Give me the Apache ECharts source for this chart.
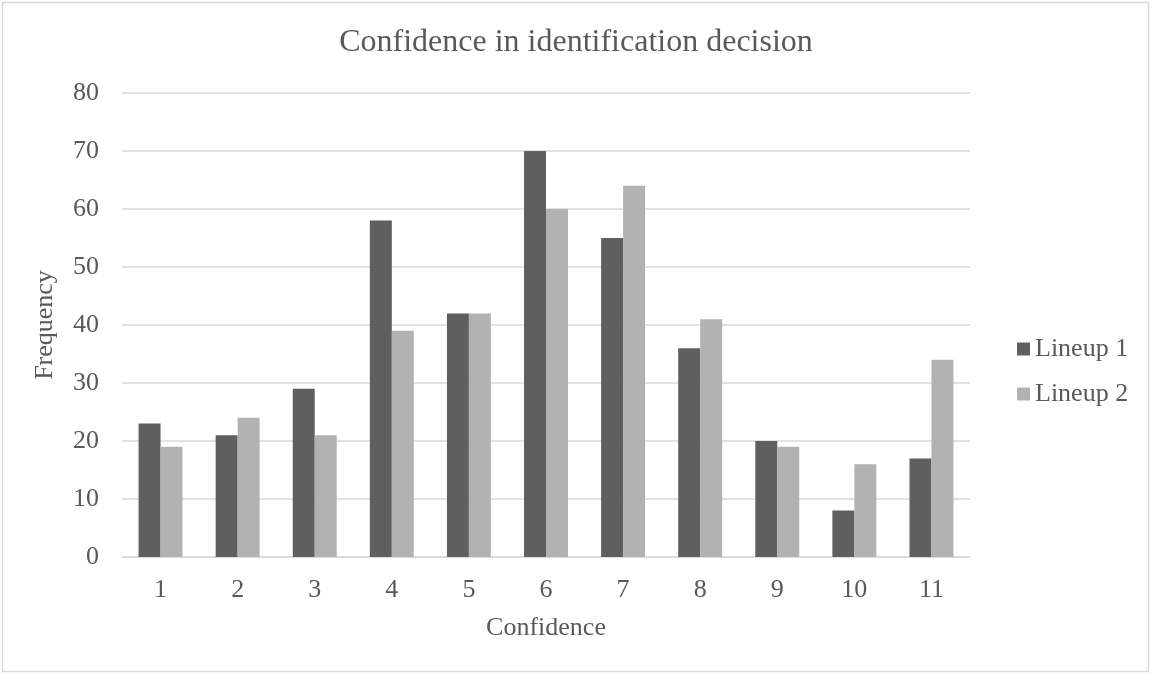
<!DOCTYPE html>
<html>
<head>
<meta charset="utf-8">
<script src="https://cdn.jsdelivr.net/npm/echarts@6/dist/echarts.min.js"></script>
<style>
html, body { margin: 0; padding: 0; background: #fff; }
#chart { width: 1152px; height: 675px; }
</style>
</head>
<body>
<div id="chart"></div>
<script>
// data
var categories = ['1', '2', '3', '4', '5', '6', '7', '8', '9', '10', '11'];
var lineup1 = [23, 21, 29, 58, 42, 70, 55, 36, 20, 8, 17];
var lineup2 = [19, 24, 21, 39, 42, 60, 64, 41, 19, 16, 34];

var font = '"Liberation Serif", "DejaVu Serif", serif';
var textColor = '#595959';

var myChart = echarts.init(document.getElementById('chart'));
myChart.setOption({
    backgroundColor: '#fff',
    animation: false,
    graphic: [{
        type: 'rect',
        shape: { x: 2.5, y: 2.5, width: 1146, height: 669 },
        style: { fill: 'none', stroke: '#d9d9d9', lineWidth: 1.5 }
    }],
    title: {
        text: 'Confidence in identification decision',
        left: 'center',
        top: 22,
        textStyle: { fontFamily: font, fontSize: 32, fontWeight: 'normal', color: textColor }
    },
    legend: {
        orient: 'vertical',
        left: 1012,
        top: 331,
        itemWidth: 13,
        itemHeight: 13,
        itemGap: 19,
        icon: 'rect',
        textStyle: { fontFamily: font, fontSize: 26, color: textColor },
        data: ['Lineup 1', 'Lineup 2']
    },
    grid: { left: 122, right: 182, top: 93, bottom: 118, containLabel: false },
    xAxis: {
        type: 'category',
        data: categories,
        name: 'Confidence',
        nameLocation: 'middle',
        nameGap: 58,
        nameTextStyle: { fontFamily: font, fontSize: 26, color: textColor },
        axisLine: { lineStyle: { color: '#d9d9d9', width: 1.5 } },
        axisTick: { show: false },
        axisLabel: { fontFamily: font, fontSize: 26, color: textColor, margin: 20 }
    },
    yAxis: {
        type: 'value',
        min: 0,
        max: 80,
        interval: 10,
        name: 'Frequency',
        nameLocation: 'middle',
        nameGap: 64,
        nameTextStyle: { fontFamily: font, fontSize: 26, color: textColor },
        axisLine: { show: false },
        axisTick: { show: false },
        splitLine: { lineStyle: { color: '#d9d9d9', width: 1.5 } },
        axisLabel: { fontFamily: font, fontSize: 26, color: textColor, margin: 23 }
    },
    series: [{
        name: 'Lineup 1',
        type: 'bar',
        data: lineup1,
        barGap: '0%',
        barCategoryGap: '43%',
        itemStyle: { color: '#5f5f5f' }
    }, {
        name: 'Lineup 2',
        type: 'bar',
        data: lineup2,
        itemStyle: { color: '#b2b2b2' }
    }]
});
</script>
</body>
</html>
